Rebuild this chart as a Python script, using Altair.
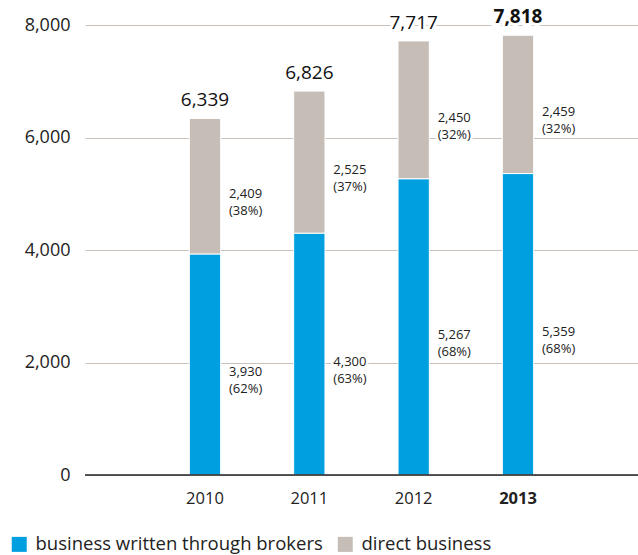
import altair as alt
import pandas as pd

years = ["2010", "2011", "2012", "2013"]
brokers = [3930, 4300, 5267, 5359]
direct = [2409, 2525, 2450, 2459]
totals = [6339, 6826, 7717, 7818]
broker_pct = [62, 63, 68, 68]
direct_pct = [38, 37, 32, 32]

cat_b = "business written through brokers"
cat_d = "direct business"

rows = []
for i, y in enumerate(years):
    rows.append({"year": y, "cat": cat_b, "order": 0, "value": brokers[i],
                 "mid": brokers[i] / 2,
                 "label": f"{brokers[i]:,}\n({broker_pct[i]}%)"})
    rows.append({"year": y, "cat": cat_d, "order": 1, "value": direct[i],
                 "mid": brokers[i] + direct[i] / 2,
                 "label": f"{direct[i]:,}\n({direct_pct[i]}%)"})
seg = pd.DataFrame(rows)
tot = pd.DataFrame({"year": years, "total": totals,
                    "label": [f"{t:,}" for t in totals],
                    "bold": [y == "2013" for y in years]})

FONT = "Open Sans"
xscale = alt.Scale(domain=years, paddingInner=0.7, paddingOuter=1.0)
yscale = alt.Scale(domain=[0, 8000])

x = alt.X("year:N", scale=xscale, sort=years,
          axis=alt.Axis(title=None, domain=False, ticks=False, labelAngle=0,
                        labelPadding=15, labelFontSize=16.5, labelColor="#222",
                        labelFont=FONT,
                        labelFontWeight=alt.expr("datum.value == '2013' ? 'bold' : 'normal'")))
xs = alt.X("year:N", scale=xscale, sort=years)

bars = alt.Chart(seg).mark_bar(stroke="white", strokeWidth=1).encode(
    x=x,
    y=alt.Y("value:Q", stack="zero", scale=yscale,
            axis=alt.Axis(title=None, values=[0, 2000, 4000, 6000, 8000], format=",.0f",
                          domain=False, ticks=False, labelPadding=15,
                          labelFontSize=18, labelColor="#222", labelFont=FONT,
                          gridColor="#c9c1ba", gridWidth=1)),
    color=alt.Color("cat:N", scale=alt.Scale(domain=[cat_b, cat_d], range=["#009fe0", "#c5bdb6"]),
                    legend=alt.Legend(title=None, orient="none", direction="horizontal",
                                      legendX=-75, legendY=510, symbolType="square",
                                      symbolSize=225, symbolStrokeWidth=0, labelLimit=0,
                                      labelFontSize=18.5, labelFont=FONT, labelColor="#222",
                                      columnPadding=13, labelOffset=7)),
    order=alt.Order("order:Q"),
)

zero = alt.Chart(pd.DataFrame({"v": [0]})).mark_rule(color="#222", strokeWidth=1.5).encode(
    y=alt.Y("v:Q", scale=yscale))

seg_kw = dict(align="left", baseline="middle", dx=24, dy=8, fontSize=13, lineHeight=17,
              font=FONT, lineBreak="\n")
seg_halo = alt.Chart(seg).mark_text(stroke="white", strokeWidth=5, color="white", **seg_kw).encode(
    x=xs, y=alt.Y("mid:Q", scale=yscale), text="label:N")
seg_text = alt.Chart(seg).mark_text(color="#222", **seg_kw).encode(
    x=xs, y=alt.Y("mid:Q", scale=yscale), text="label:N")

layers = [bars, zero, seg_halo, seg_text]
for weight, cond in [("normal", "!datum.bold"), ("bold", "datum.bold")]:
    kw = dict(baseline="bottom", dy=-8, fontSize=19, font=FONT, fontWeight=weight)
    base = alt.Chart(tot).transform_filter(cond)
    layers.append(base.mark_text(stroke="white", strokeWidth=6, color="white", **kw).encode(
        x=xs, y=alt.Y("total:Q", scale=yscale), text="label:N"))
    layers.append(base.mark_text(color="#111", **kw).encode(
        x=xs, y=alt.Y("total:Q", scale=yscale), text="label:N"))

chart = alt.layer(*layers).properties(
    width=553, height=450,
    background="white",
    autosize=alt.AutoSizeParams(type="none"),
    padding={"left": 85, "top": 25, "right": 0, "bottom": 80},
).configure_view(stroke=None)

chart.save("out.html", embed_options={"renderer": "svg", "actions": False})
